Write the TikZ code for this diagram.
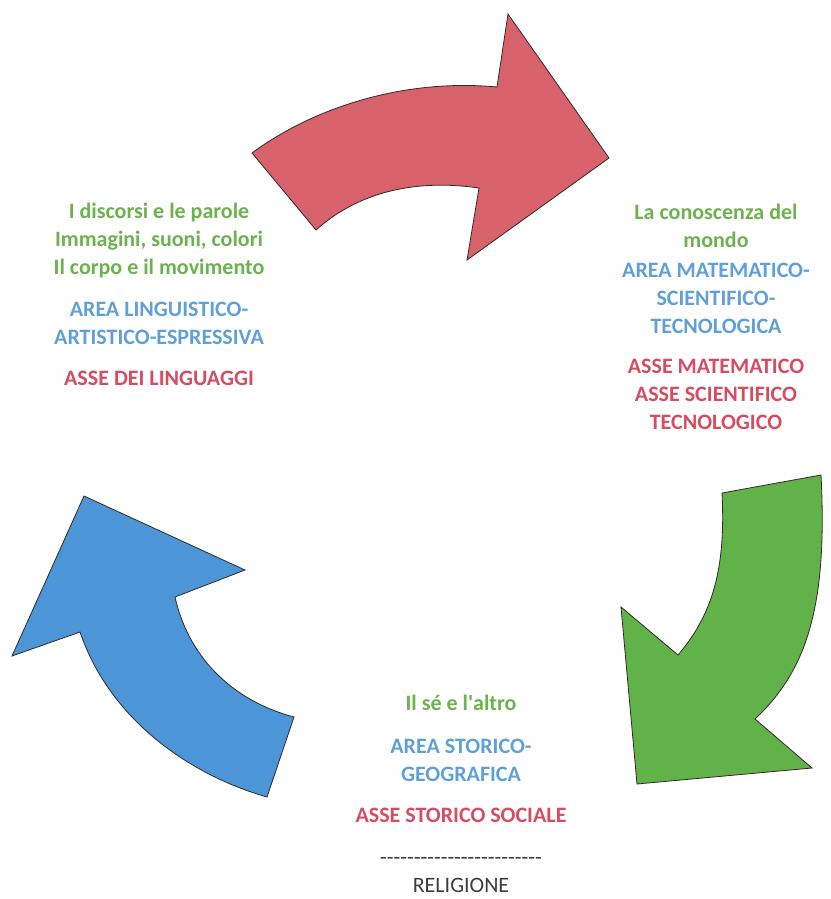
\documentclass[tikz,border=0pt]{standalone}
\usepackage{fontspec}
\setmainfont{Carlito}
\usetikzlibrary{positioning}

\definecolor{verdetxt}{RGB}{108,178,78}
\definecolor{blutxt}{RGB}{96,160,214}
\definecolor{rossotxt}{RGB}{214,76,96}
\definecolor{grigiotxt}{RGB}{60,60,60}
\definecolor{rossofr}{RGB}{215,98,108}
\definecolor{verdefr}{RGB}{98,178,74}
\definecolor{blufr}{RGB}{76,150,216}
\definecolor{bordo}{RGB}{50,40,40}

\newcommand\trattini{\foreach \i in {1,...,24}{-}}

\begin{document}
\begin{tikzpicture}[x=1pt,y=-1pt,
	campo/.style={align=center, inner sep=0pt, font=\fontsize{22}{28}\selectfont\bfseries, text=verdetxt},
	area/.style={campo, text=blutxt},
	asse/.style={campo, text=rossotxt},
	freccia/.style={draw=bordo, line width=0.8pt, line join=miter}]
	\useasboundingbox (0,0) rectangle (830,899);

	\draw[freccia, fill=rossofr] (252,153) .. controls (310,110) and (400,78) .. (497,87)
		-- (508,14) -- (609,158) -- (467,260) -- (479,188)
		.. controls (410,178) and (355,195) .. (316,230) -- cycle;
	\draw[freccia, fill=verdefr] (821,475) -- (722,493)
		.. controls (726,570) and (712,615) .. (678,655)
		-- (621,607) -- (637,784) -- (812,768) -- (755,719)
		.. controls (805,672) and (828,610) .. (821,475) -- cycle;
	\draw[freccia, fill=blufr] (84,496) -- (245,570) -- (175,597)
		.. controls (188,655) and (230,700) .. (294,717)
		-- (267,797) .. controls (190,775) and (110,720) .. (80,632)
		-- (12,656) -- cycle;

	\node[campo] (discorsi) at (159,241) {I discorsi e le parole\\Immagini, suoni, colori\\Il corpo e il movimento};
	\node[area, below=23pt of discorsi] (linguistica) {AREA LINGUISTICO-\\ARTISTICO-ESPRESSIVA};
	\node[asse, below=26pt of linguistica] (linguaggi) {ASSE DEI LINGUAGGI};

	\node[campo] (mondo) at (716,226) {La conoscenza del\\mondo};
	\node[area, below=15pt of mondo] (matematica) {AREA MATEMATICO-\\SCIENTIFICO-\\TECNOLOGICA};
	\node[asse, below=25pt of matematica] (scienza) {ASSE MATEMATICO\\ASSE SCIENTIFICO\\TECNOLOGICO};

	\node[campo] (altro) at (461,703) {Il sé e l\textquotesingle altro};
	\node[area, below=28pt of altro] (storia) {AREA STORICO-\\GEOGRAFICA};
	\node[asse, below=26pt of storia] (sociale) {ASSE STORICO SOCIALE};
	\node[campo, font=\fontsize{22}{28}\selectfont, text=grigiotxt, below=34pt of sociale] (religione) {\trattini\\RELIGIONE};
\end{tikzpicture}
\end{document}
